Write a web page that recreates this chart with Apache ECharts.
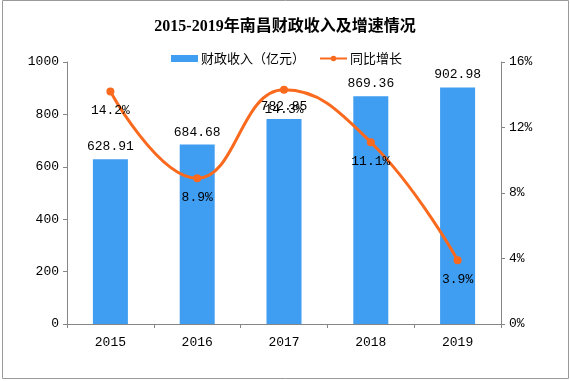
<!DOCTYPE html>
<html><head><meta charset="utf-8">
<script src="https://cdn.jsdelivr.net/npm/echarts@6/dist/echarts.min.js"></script>
<style>html,body{margin:0;padding:0;background:#fff}#c{width:570px;height:381px}</style>
</head><body><div id="c"></div>
<script>
const categories = ['2015','2016','2017','2018','2019'];
const revenue = [628.91, 684.68, 782.85, 869.36, 902.98];
const growth = [14.2, 8.9, 14.3, 11.1, 3.9];
const leftTicks = [0, 200, 400, 600, 800, 1000];
const rightTicks = [0, 4, 8, 12, 16];

const font = '"Liberation Mono","Noto Sans CJK SC",monospace';
const axisColor = '#868686';
const chart = echarts.init(document.getElementById('c'));
chart.setOption({
  animation: false,
  title: {
    text: '2015-2019年南昌财政收入及增速情况',
    left: 'center', top: 14,
    textStyle: {fontFamily: '"Liberation Serif","Noto Sans CJK SC",serif', fontWeight: 'bold', fontSize: 16, color: '#000'}
  },
  legend: {
    top: 47, left: 166, itemGap: 14,
    textStyle: {fontFamily: '"Noto Sans CJK SC",sans-serif', fontSize: 13, color: '#000', padding: [0,0,0,-2]},
    data: [
      {name: '财政收入（亿元）', icon: 'rect', itemStyle: {color: '#3F9DF2'}},
      {name: '同比增长'}
    ],
    itemWidth: 27, itemHeight: 7
  },
  grid: {left: 67, right: 69, top: 62, bottom: 57},
  xAxis: {
    type: 'category', data: categories,
    axisLine: {lineStyle: {color: axisColor}},
    axisTick: {show: true, length: 4, lineStyle: {color: axisColor}},
    axisLabel: {color: '#000', fontFamily: font, fontSize: 13, margin: 12}
  },
  yAxis: [
    {type: 'value', min: leftTicks[0], max: leftTicks[leftTicks.length-1], interval: 200,
     axisLine: {show: true, lineStyle: {color: axisColor}},
     axisTick: {show: true, length: 4, lineStyle: {color: axisColor}},
     splitLine: {show: false},
     axisLabel: {color: '#000', fontFamily: font, fontSize: 13, margin: 8, formatter: v => String(v)}},
    {type: 'value', min: rightTicks[0], max: rightTicks[rightTicks.length-1], interval: 4,
     axisLine: {show: true, lineStyle: {color: axisColor}},
     axisTick: {show: true, length: 4, lineStyle: {color: axisColor}},
     splitLine: {show: false},
     axisLabel: {color: '#000', fontFamily: font, fontSize: 13, margin: 8, formatter: '{value}%'}}
  ],
  series: [
    {name: '财政收入（亿元）', type: 'bar', data: revenue, barWidth: 35, yAxisIndex: 0,
     itemStyle: {color: '#3F9DF2'},
     label: {show: true, position: 'top', distance: 6, color: '#000', fontFamily: font, fontSize: 13,
             formatter: p => p.value.toFixed(2)}},
    {name: '同比增长', type: 'line', data: growth, yAxisIndex: 1, smooth: 0.45,
     symbol: 'circle', symbolSize: 8,
     lineStyle: {color: '#FA6A1E', width: 3}, itemStyle: {color: '#FA6A1E'},
     label: {show: true, position: 'bottom', distance: 9, color: '#000', fontFamily: font, fontSize: 13,
             formatter: p => p.value.toFixed(1) + '%'}}
  ],
  graphic: [{type: 'rect', shape: {x: 2.5, y: 0.5, width: 566, height: 378}, style: {fill: 'none', stroke: '#9a9a9a', lineWidth: 1}, silent: true}]
});
</script></body></html>
